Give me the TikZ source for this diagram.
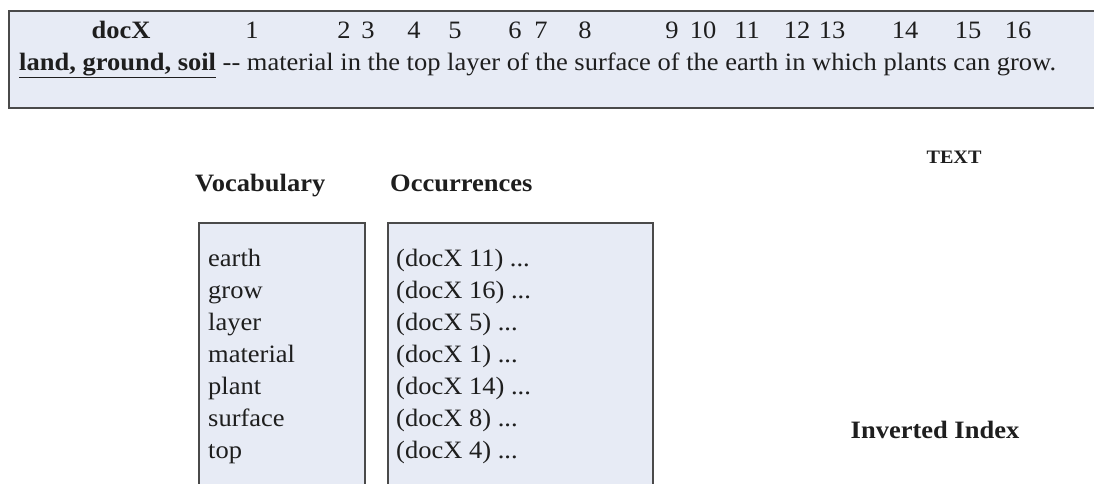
\documentclass[tikz,border=0pt]{standalone}
\usepackage{fontspec}
\setmainfont[FakeStretch=1.06]{Liberation Serif}
\definecolor{panelfill}{HTML}{E7EBF5}
\definecolor{panelline}{HTML}{4A4A4A}
\definecolor{ink}{HTML}{1E1E1E}
\tikzset{
  panel/.style={draw=panelline, line width=1.6pt, fill=panelfill, rectangle, inner sep=0pt, anchor=north west},
  txt/.style={inner sep=0pt, text=ink, font=\fontsize{25}{28}\selectfont},
  num/.style={txt, anchor=base},
  bold/.style={inner sep=0pt, text=ink, font=\fontsize{25}{28}\selectfont\bfseries},
  entry/.style={txt, anchor=base west},
}
\begin{document}
\begin{tikzpicture}[x=1pt,y=-1pt]
\useasboundingbox (0,0) rectangle (1094,483);
\clip (0,0) rectangle (1094,483);
\fill[white] (0,0) rectangle (1094,483);
% top document box
\node[panel, minimum width=1100pt, minimum height=97pt] (docbox) at (8,10) {};
\node[bold, anchor=base] (docx) at (121,38) {docX};
\foreach \n/\x in {1/252,2/344,3/368,4/414,5/455,6/515,7/541,8/585,9/672,10/703,11/747,12/797,13/832,14/905,15/968,16/1018}{
  \node[num] (n\n) at (\x,38) {\n};
}
\node[txt, anchor=base west] (gloss) at (19,70) {\textbf{\underline{land, ground, soil}} -{}- material in the top layer of the surface of the earth in which plants can grow.};
% labels
\node[bold, anchor=base west] (vocab) at (195,191) {Vocabulary};
\node[bold, anchor=base west] (occ) at (390,191) {Occurrences};
\node[inner sep=0pt, text=ink, font=\fontsize{19}{22}\selectfont\bfseries, anchor=base] (textlbl) at (954,163) {TEXT};
\node[bold, anchor=base] (inv) at (935,438) {Inverted Index};
% boxes
\node[panel, minimum width=166pt, minimum height=290pt] (vbox) at (198,222) {};
\node[panel, minimum width=265pt, minimum height=290pt] (obox) at (387,222) {};
% entries
\foreach \w/\o [count=\i] in {earth/11,grow/16,layer/5,material/1,plant/14,surface/8,top/4}{
  \node[entry] (v\i) at (208,{258+8+32*(\i-1)}) {\w};
  \node[entry] (o\i) at (396,{258+8+32*(\i-1)}) {(docX \o) ...};
}
\end{tikzpicture}
\end{document}
